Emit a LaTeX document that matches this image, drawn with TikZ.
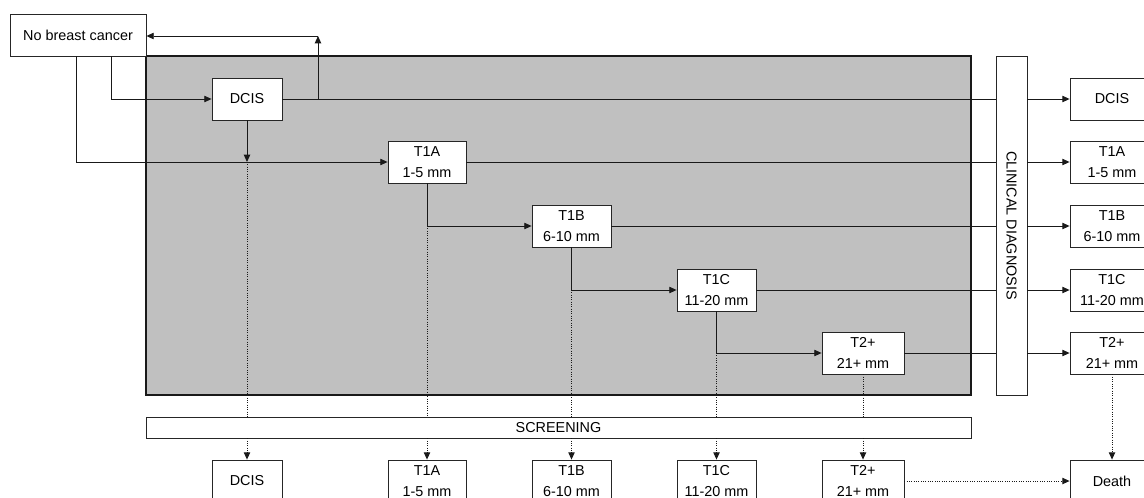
\documentclass[tikz,border=0pt]{standalone}
\usepackage{fontspec}
\setmainfont{Liberation Sans}
\usetikzlibrary{arrows.meta}
\begin{document}
\begin{tikzpicture}[x=0.75pt,y=-0.75pt,
  every node/.style={font=\fontsize{10.8}{15.75}\selectfont},
  box/.style={draw=black!85, line width=0.6pt, fill=white, inner sep=0pt, align=center, minimum height=31.5pt},
  ln/.style={draw=black!90, line width=0.7pt},
  arr/.style={ln, -{Triangle[length=5.5pt,width=4.8pt]}},
  dot/.style={draw=black!90, line width=0.75pt, densely dotted},
  dotarr/.style={dot, -{Triangle[length=5.5pt,width=4.8pt]}}]
\useasboundingbox (0,0) rectangle (1144,497);
% grey region
\fill[fill={rgb,255:red,192;green,192;blue,192}] (146,56) rectangle (971,395);
\draw[line width=1.5pt, black!90] (146,56) rectangle (971,395);
% nodes
\node[box, minimum width=102pt] (nbc) at (78,35) {No breast cancer};
\node[box, minimum width=52.5pt] (dcis) at (247,99) {DCIS};
\node[box, minimum width=58.5pt] (t1a) at (427,162) {T1A\\1-5 mm};
\node[box, minimum width=59.25pt] (t1b) at (571.5,226) {T1B\\6-10 mm};
\node[box, minimum width=59.25pt] (t1c) at (716.5,290) {T1C\\11-20 mm};
\node[box, minimum width=61.5pt] (t2) at (863,353) {T2+\\21+ mm};
\node[box, minimum width=23.25pt, minimum height=254.25pt] (clin) at (1011.5,225.5) {};
\node[rotate=-90] (clintxt) at (clin.center) {CLINICAL DIAGNOSIS};
\node[box, minimum width=618.75pt, minimum height=15.75pt] (scr) at (558.5,427.5) {SCREENING};
% bottom
\node[box, minimum width=52.5pt] (bdcis) at (247,481) {DCIS};
\node[box, minimum width=58.5pt] (bt1a) at (427,481) {T1A\\1-5 mm};
\node[box, minimum width=59.25pt] (bt1b) at (571.5,481) {T1B\\6-10 mm};
\node[box, minimum width=59.25pt] (bt1c) at (716.5,481) {T1C\\11-20 mm};
\node[box, minimum width=61.5pt] (bt2) at (863,481) {T2+\\21+ mm};
% right
\node[box, minimum width=63pt] (rdcis) at (1112,99) {DCIS};
\node[box, minimum width=63pt] (rt1a) at (1112,162) {T1A\\1-5 mm};
\node[box, minimum width=63pt] (rt1b) at (1112,226) {T1B\\6-10 mm};
\node[box, minimum width=63pt] (rt1c) at (1112,290) {T1C\\11-20 mm};
\node[box, minimum width=63pt] (rt2) at (1112,353) {T2+\\21+ mm};
\node[box, minimum width=63pt] (death) at (1112,481) {Death};
% coordinates
\coordinate (n1) at (111,56);
\coordinate (n2) at (76,56);
\coordinate (br) at (318,99);
\coordinate (top) at (318,36);
\coordinate (d1) at (247,162);
% no breast cancer exits
\draw[arr] (n1) |- (dcis.west);
\draw[arr] (n2) |- (t1a.west);
% DCIS
\draw[ln] (dcis.east) -- (clin.west |- dcis.east);
\draw[arr] (br) -- (top);
\draw[arr] (top) -- (nbc.east |- top);
\draw[arr] (dcis.south) -- (d1);
\draw[dot] (d1) -- (dcis.south |- scr.north);
\draw[dotarr] (dcis.south |- scr.south) -- (bdcis.north);
% T1A
\draw[ln] (t1a.east) -- (clin.west |- t1a.east);
\draw[arr] (t1a.south) |- (t1b.west);
\draw[dot] (t1a.south |- t1b.west) -- (t1a.south |- scr.north);
\draw[dotarr] (t1a.south |- scr.south) -- (bt1a.north);
% T1B
\draw[ln] (t1b.east) -- (clin.west |- t1b.east);
\draw[arr] (t1b.south) |- (t1c.west);
\draw[dot] (t1b.south |- t1c.west) -- (t1b.south |- scr.north);
\draw[dotarr] (t1b.south |- scr.south) -- (bt1b.north);
% T1C
\draw[ln] (t1c.east) -- (clin.west |- t1c.east);
\draw[arr] (t1c.south) |- (t2.west);
\draw[dot] (t1c.south |- t2.west) -- (t1c.south |- scr.north);
\draw[dotarr] (t1c.south |- scr.south) -- (bt1c.north);
% T2+
\draw[ln] (t2.east) -- (clin.west |- t2.east);
\draw[dot] (t2.south) -- (t2.south |- scr.north);
\draw[dotarr] (t2.south |- scr.south) -- (bt2.north);
% clinical diagnosis outputs
\draw[arr] (clin.east |- rdcis.west) -- (rdcis.west);
\draw[arr] (clin.east |- rt1a.west) -- (rt1a.west);
\draw[arr] (clin.east |- rt1b.west) -- (rt1b.west);
\draw[arr] (clin.east |- rt1c.west) -- (rt1c.west);
\draw[arr] (clin.east |- rt2.west) -- (rt2.west);
% death
\draw[dotarr] (rt2.south) -- (death.north);
\draw[dotarr] (bt2.east) -- (death.west);
\end{tikzpicture}
\end{document}
